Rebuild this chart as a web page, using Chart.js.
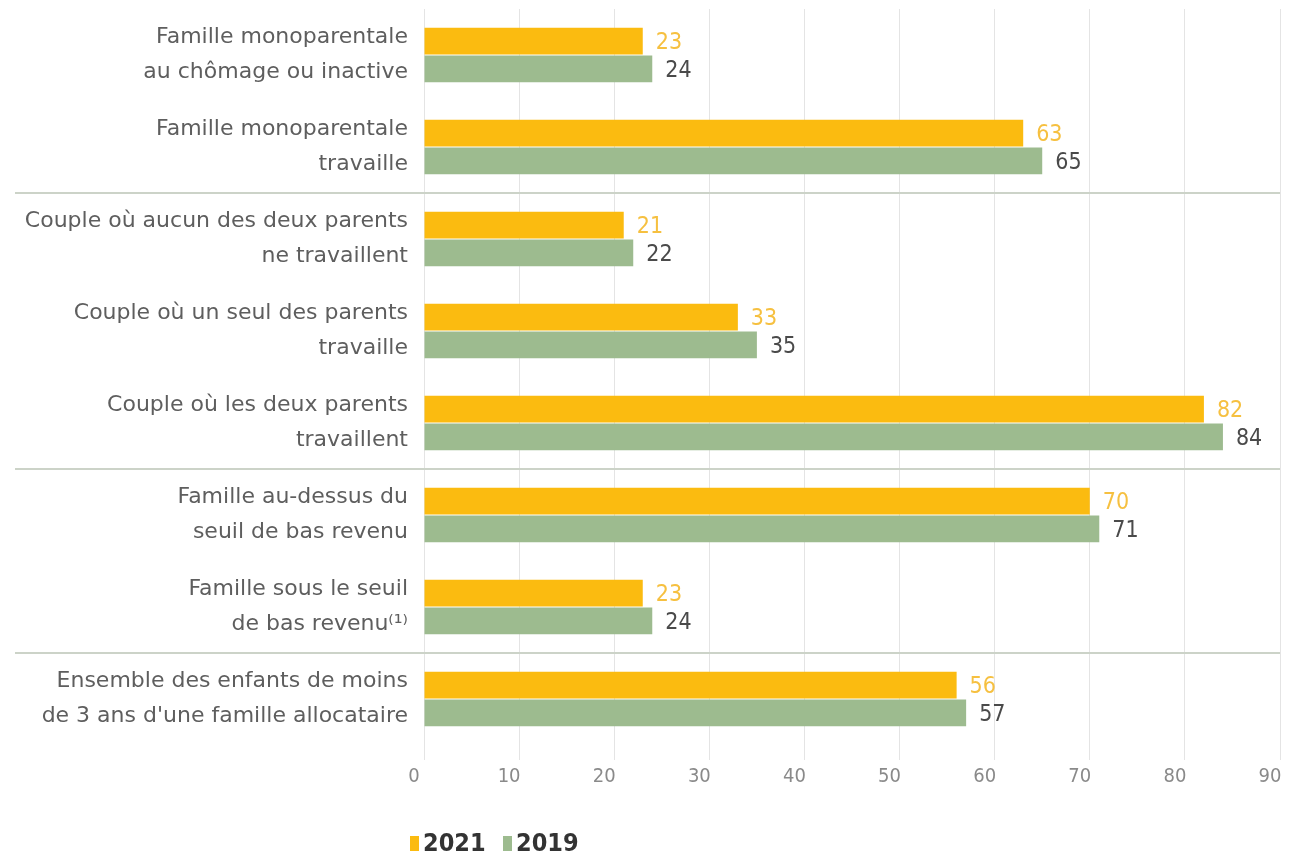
<!DOCTYPE html>
<html>
<head>
<meta charset="utf-8">
<script src="https://cdn.jsdelivr.net/npm/chart.js@4.4.0/dist/chart.umd.min.js"></script>
<style>
  body { margin: 0; background: #fff; }
  #wrap { width: 1307px; height: 856px; position: relative; }
</style>
</head>
<body>
<div id="wrap"><canvas id="myChart"></canvas></div>
<script>
    // catégories (libellés sur deux lignes)
    let labels = [
        ["Famille monoparentale", "au chômage ou inactive"],
        ["Famille monoparentale", "travaille"],
        ["Couple où aucun des deux parents", "ne travaillent"],
        ["Couple où un seul des parents", "travaille"],
        ["Couple où les deux parents", "travaillent"],
        ["Famille au-dessus du", "seuil de bas revenu"],
        ["Famille sous le seuil", "de bas revenu⁽¹⁾"],
        ["Ensemble des enfants de moins", "de 3 ans d'une famille allocataire"]
    ];
    // valeurs
    let data2021 = [23, 63, 21, 33, 82, 70, 23, 56];
    let data2019 = [24, 65, 22, 35, 84, 71, 24, 57];
    let xTicks = [0, 10, 20, 30, 40, 50, 60, 70, 80, 90];
    // séparateurs entre groupes (après l'index)
    let groupBreaks = [1, 4, 6];

    const ORANGE = "#FBBB10";
    const GREEN = "#9DBB8F";
    const narrow = "'DejaVu Sans Condensed', 'Liberation Sans Narrow', sans-serif";

    // lignes de séparation, étiquettes et légende
    const extras = {
        id: 'extras',
        beforeDatasetsDraw(chart) {
            const ctx = chart.ctx, y = chart.scales.y, area = chart.chartArea;
            ctx.save();
            ctx.strokeStyle = "#ccd3c8";
            ctx.lineWidth = 2;
            groupBreaks.forEach(i => {
                const py = (y.getPixelForValue(i) + y.getPixelForValue(i + 1)) / 2;
                ctx.beginPath();
                ctx.moveTo(15, py);
                ctx.lineTo(area.right, py);
                ctx.stroke();
            });
            ctx.restore();
        },
        afterDraw(chart) {
            const ctx = chart.ctx;
            ctx.save();
            ctx.font = "23px " + narrow;
            ctx.textAlign = "left";
            ctx.textBaseline = "middle";
            chart.data.datasets.forEach((ds, di) => {
                ctx.fillStyle = di === 0 ? "#F6C040" : "#4a4a4a";
                chart.getDatasetMeta(di).data.forEach((bar, i) => {
                    ctx.fillText(ds.data[i], bar.x + 13, bar.y + 2);
                });
            });
            // légende
            let lx = 410;
            chart.data.datasets.forEach(ds => {
                ctx.fillStyle = ds.backgroundColor;
                ctx.fillRect(lx, 836, 9, 15);
                ctx.fillStyle = "#333";
                ctx.font = "bold 25px " + narrow;
                ctx.fillText(ds.label, lx + 13, 844);
                lx += 93;
            });
            ctx.restore();
        }
    };

    let ctx = document.getElementById("myChart");
    let myChart = new Chart(ctx, {
        type: 'bar',
        data: {
            labels: labels,
            datasets: [
                { label: '2021', data: data2021, backgroundColor: ORANGE },
                { label: '2019', data: data2019, backgroundColor: GREEN }
            ]
        },
        options: {
            indexAxis: 'y',
            responsive: true,
            maintainAspectRatio: false,
            animation: false,
            layout: { padding: { top: 9, right: 27, left: 0, bottom: 0 } },
            datasets: { bar: { categoryPercentage: 0.6, barPercentage: 0.97 } },
            plugins: {
                legend: { display: false },
                tooltip: { enabled: false }
            },
            scales: {
                x: {
                    min: 0,
                    max: 90,
                    afterBuildTicks: s => { s.ticks = xTicks.map(v => ({ value: v })); },
                    afterFit: s => { s.height = 111; },
                    border: { display: false },
                    grid: { color: "#e4e4e4", lineWidth: 1, tickLength: 15 },
                    ticks: {
                        color: "#8a8a8a",
                        font: { family: narrow, size: 20 },
                        padding: 5,
                        labelOffset: -10,
                        maxRotation: 0
                    }
                },
                y: {
                    afterFit: s => { s.width = 424; s.paddingTop = 0; s.paddingBottom = 0; },
                    border: { display: false },
                    grid: { display: false, drawTicks: false },
                    ticks: {
                        color: "#5e5e5e",
                        font: { family: "'DejaVu Sans', sans-serif", size: 22, lineHeight: 1.6 },
                        padding: 16
                    }
                }
            }
        },
        plugins: [extras]
    });
</script>
</body>
</html>
